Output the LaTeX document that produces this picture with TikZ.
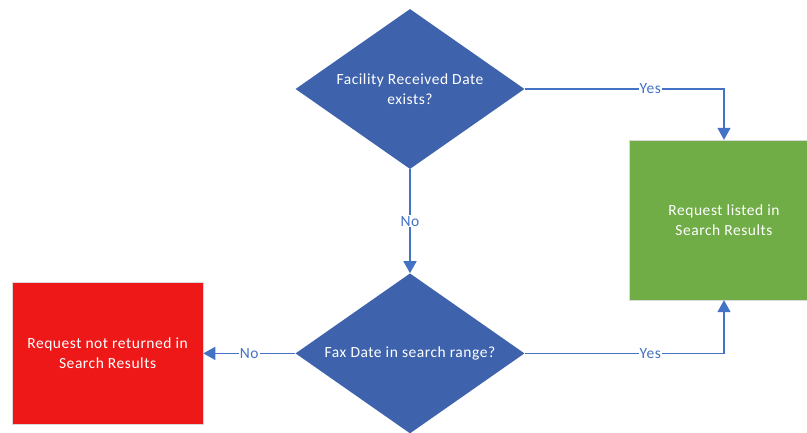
\documentclass[tikz,border=0pt]{standalone}
\usepackage{fontspec}
\setmainfont{Carlito}[LetterSpace=3.5]
\usepackage{tikz}
\usetikzlibrary{positioning, shapes.geometric, arrows.meta}
\definecolor{decblue}{HTML}{3E63AC}
\definecolor{lineblue}{HTML}{4472C4}
\definecolor{okgreen}{HTML}{70AD47}
\definecolor{nored}{HTML}{EE1818}

\begin{document}
\begin{tikzpicture}[
    x=1pt, y=-1pt,
    decision/.style={diamond, fill=decblue, text=white, aspect=1.43, minimum width=229pt, minimum height=160pt, inner sep=0pt, align=center, font=\fontsize{15.5}{20}\selectfont},
    result/.style={rectangle, draw=black!15, text=white, inner sep=0pt, align=center, font=\fontsize{15.5}{20}\selectfont},
    flow/.style={draw=lineblue, line width=1.5pt, -{Triangle[width=13pt, length=12pt]}},
    answer/.style={fill=white, text=lineblue, inner sep=1pt, font=\fontsize{15.5}{20}\selectfont}
]
\useasboundingbox (0,0) rectangle (807,433);

% Decisions
\node[decision] (recv) at (410,89) {Facility Received Date \\ exists?};
\node[decision, below=104pt of recv] (fax) {Fax Date in search range?};

% Outcomes
\node[result, fill=okgreen, minimum width=190pt, minimum height=160pt] (listed) at (724,220) {Request listed in \\ Search Results};
\node[result, fill=nored, minimum width=191pt, minimum height=142pt, left=92pt of fax] (notret) {Request not returned in \\ Search Results};

% Edges and answers
\draw[flow] (recv) -- node[answer] {No} (fax);
\draw[flow] (fax) -- node[answer] {No} (notret);
\draw[flow] (recv.east) -- node[answer, pos=0.63] {Yes} (recv.east -| listed.north) -- (listed.north);
\draw[flow] (fax.east) -- node[answer, pos=0.63] {Yes} (fax.east -| listed.south) -- (listed.south);

\end{tikzpicture}
\end{document}
